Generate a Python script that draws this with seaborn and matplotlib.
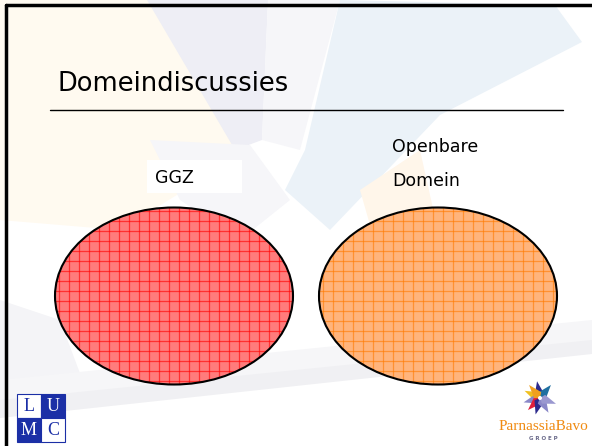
import numpy as np
import matplotlib.pyplot as plt
import seaborn as sns
from matplotlib.patches import Ellipse, Polygon, Rectangle

sns.set_theme(style="white")
plt.rcParams['font.family'] = ['DejaVu Sans']

title = "Domeindiscussies"
circle_labels = ["GGZ", "Openbare\n\nDomein"]
circle_fill = ["#ff7c7c", "#ffb47c"]
circle_grid = ["#ff0000", "#ff7a00"]

# slide in pixel coordinates
fig = plt.figure(figsize=(5.92, 4.46), dpi=100)
ax = fig.add_axes([0, 0, 1, 1])
ax.set_xlim(0, 592)
ax.set_ylim(446, 0)
ax.axis("off")

# faint background rays
bg = [
    ([(0, 0), (150, 0), (250, 150), (120, 230), (0, 220)], "#fffaf0"),
    ([(147, 0), (268, 0), (262, 140), (235, 150)], "#eeeef5"),
    ([(268, 0), (340, 0), (300, 150), (262, 140)], "#f6f6f9"),
    ([(340, 0), (555, 5), (582, 42), (440, 115), (330, 230), (285, 190), (305, 150)], "#ebf2f8"),
    ([(150, 140), (250, 145), (290, 200), (240, 240), (180, 200)], "#f6f6f9"),
    ([(360, 190), (420, 150), (440, 240), (380, 260)], "#fff6ea"),
    ([(0, 300), (60, 320), (90, 400), (0, 410)], "#f4f4f7"),
]
for pts, col in bg:
    ax.add_patch(Polygon(pts, closed=True, facecolor=col, edgecolor="none", zorder=0))

# bottom swoosh, soft gray fading upward
for k, col in enumerate(["#f6f6f8", "#f0f0f3", "#eaeaee"]):
    top = 330 + 20 * k
    ax.add_patch(Polygon([(0, top + 50), (592, top - 10), (592, 356), (0, 418)], closed=True,
                         facecolor=col, edgecolor="none", zorder=0.5))
ax.add_patch(Polygon([(0, 418), (592, 354), (592, 446), (0, 446)], closed=True,
                     facecolor="white", edgecolor="none", zorder=0.6))

# slide border
ax.plot([6, 6], [446, 5], color="black", lw=2.5, zorder=5)
ax.plot([6, 592], [5, 5], color="black", lw=2.5, zorder=5)

ax.text(57, 84, title, fontsize=18.5, va="center", ha="left", color="black", zorder=5)
ax.plot([50, 563], [110, 110], color="black", lw=1, zorder=5)

# two domain ellipses with grid fill
centers = [(174, 296), (438, 296)]
for (cx, cy), fc, gc in zip(centers, circle_fill, circle_grid):
    e = Ellipse((cx, cy), 238, 177, facecolor=fc, edgecolor="none", zorder=2)
    ax.add_patch(e)
    for x in np.arange(cx - 125, cx + 126, 10):
        ln, = ax.plot([x, x], [cy - 95, cy + 95], color=gc, lw=0.9, alpha=0.6, zorder=3)
        ln.set_clip_path(e)
    for y in np.arange(cy - 95, cy + 96, 10):
        ln, = ax.plot([cx - 125, cx + 125], [y, y], color=gc, lw=0.9, alpha=0.6, zorder=3)
        ln.set_clip_path(e)
    ax.add_patch(Ellipse((cx, cy), 238, 177, facecolor="none", edgecolor="black", lw=1.5, zorder=4))

ax.add_patch(Rectangle((147, 160), 95, 33, facecolor="white", edgecolor="none", zorder=1))
ax.text(155, 178, circle_labels[0], fontsize=12.5, va="center", ha="left", color="black", zorder=5)
ax.text(392, 164, circle_labels[1], fontsize=12.5, va="center", ha="left", color="black",
        linespacing=0.95, zorder=5)

# LUMC logo
blue = "#1b2fa6"
cells = [("L", 17, 394, "white", blue), ("U", 41, 394, blue, "white"),
         ("M", 17, 418, blue, "white"), ("C", 41, 418, "white", blue)]
for ch, x, y, bgc, fgc in cells:
    ax.add_patch(Rectangle((x, y), 24, 24, facecolor=bgc, edgecolor=blue, lw=0.8, zorder=5))
    ax.text(x + 12, y + 12.5, ch, fontsize=13, family="Liberation Serif", color=fgc,
            ha="center", va="center", zorder=6)

# ParnassiaBavo logo
star = [("#2c2a8c", 100), ("#1f6fa0", 50), ("#f0c020", 155), ("#8a88c8", 195),
        ("#e0203c", 225), ("#2c2a8c", 255), ("#8a88c8", 300), ("#9a98d0", 340), ("#f0a020", 130)]
sx, sy = 540, 398
for col, ang in star:
    a = np.deg2rad(ang)
    tip = (sx + 17 * np.cos(a), sy - 17 * np.sin(a))
    l = (sx + 6 * np.cos(a + 0.9), sy - 6 * np.sin(a + 0.9))
    r = (sx + 6 * np.cos(a - 0.9), sy - 6 * np.sin(a - 0.9))
    ax.add_patch(Polygon([l, tip, r, (sx, sy)], closed=True, facecolor=col, edgecolor="none", zorder=5))
ax.add_patch(Ellipse((sx, sy), 4, 4, facecolor="white", edgecolor="none", zorder=6))
ax.text(543, 426, "ParnassiaBavo", fontsize=11, family="Liberation Serif", color="#f08a10",
        ha="center", va="center", zorder=6)
ax.text(543, 439, "G R O E P", fontsize=4, color="#6a6a8a", ha="center", va="center",
        fontweight="bold", zorder=6)

fig.savefig("out.png", dpi=100)
